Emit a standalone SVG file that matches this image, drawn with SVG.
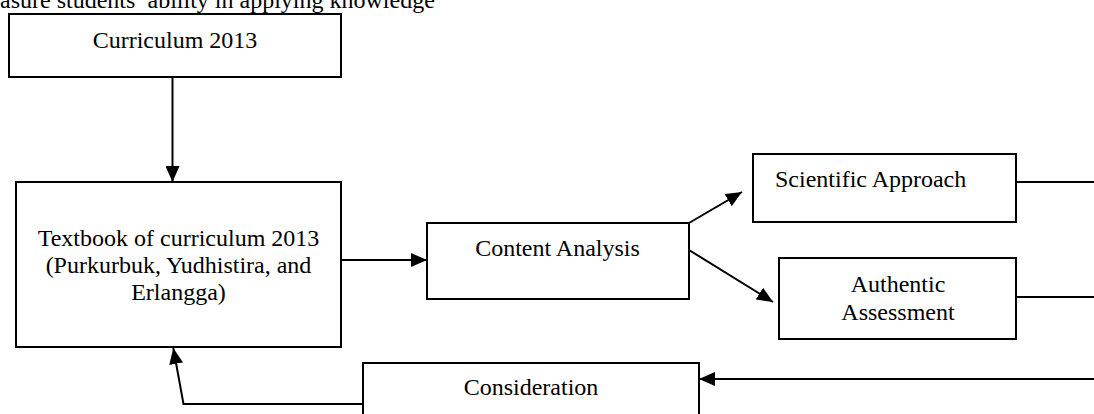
<svg xmlns="http://www.w3.org/2000/svg" width="1094" height="414" viewBox="0 0 1094 414">
<style>
  .box { fill: #ffffff; stroke: #000000; stroke-width: 2; }
  .t { font-family: "Liberation Serif", "Times New Roman", serif; font-size: 24px; fill: #000000; }
  .c { text-anchor: middle; }
  .ln { fill: none; stroke: #000000; stroke-width: 2; }
</style>
<defs>
  <marker id="ah" viewBox="0 0 16 14" refX="16" refY="7" markerWidth="16" markerHeight="14" markerUnits="userSpaceOnUse" orient="auto">
    <path d="M0,0 L16,7 L0,14 Z" fill="#000000"/>
  </marker>
</defs>
<rect width="1094" height="414" fill="#ffffff"/>
<text class="t" x="0" y="8">asure students’ ability in applying knowledge</text>

<g id="connectors">
  <line class="ln" x1="172.5" y1="77" x2="172.5" y2="182" marker-end="url(#ah)"/>
  <line class="ln" x1="341" y1="260" x2="427" y2="260" marker-end="url(#ah)"/>
  <line class="ln" x1="689" y1="223" x2="742" y2="192" marker-end="url(#ah)"/>
  <line class="ln" x1="689" y1="250" x2="773" y2="302" marker-end="url(#ah)"/>
  <line class="ln" x1="1016" y1="182" x2="1094" y2="182"/>
  <line class="ln" x1="1016" y1="297" x2="1094" y2="297"/>
  <line class="ln" x1="1094" y1="379" x2="699" y2="379" marker-end="url(#ah)"/>
  <polyline class="ln" points="363,404 183.5,404 173.3,348" marker-end="url(#ah)"/>
</g>

<g id="curriculum">
  <rect class="box" x="9" y="14" width="332" height="63"/>
  <text class="t c" x="175" y="48">Curriculum 2013</text>
</g>
<g id="textbook">
  <rect class="box" x="16" y="182" width="325" height="165"/>
  <text class="t c" x="178.5" y="246">Textbook of curriculum 2013</text>
  <text class="t c" x="178.5" y="273">(Purkurbuk, Yudhistira, and</text>
  <text class="t c" x="178.5" y="300">Erlangga)</text>
</g>
<g id="content-analysis">
  <rect class="box" x="427" y="223" width="262" height="76"/>
  <text class="t c" x="557.5" y="256">Content Analysis</text>
</g>
<g id="scientific-approach">
  <rect class="box" x="753" y="154" width="263" height="68"/>
  <text class="t" x="775" y="187">Scientific Approach</text>
</g>
<g id="authentic-assessment">
  <rect class="box" x="779" y="258" width="237" height="81"/>
  <text class="t c" x="898" y="292">Authentic</text>
  <text class="t c" x="898" y="320">Assessment</text>
</g>
<g id="consideration">
  <rect class="box" x="363" y="363" width="336" height="60"/>
  <text class="t c" x="531" y="395">Consideration</text>
</g>
</svg>
